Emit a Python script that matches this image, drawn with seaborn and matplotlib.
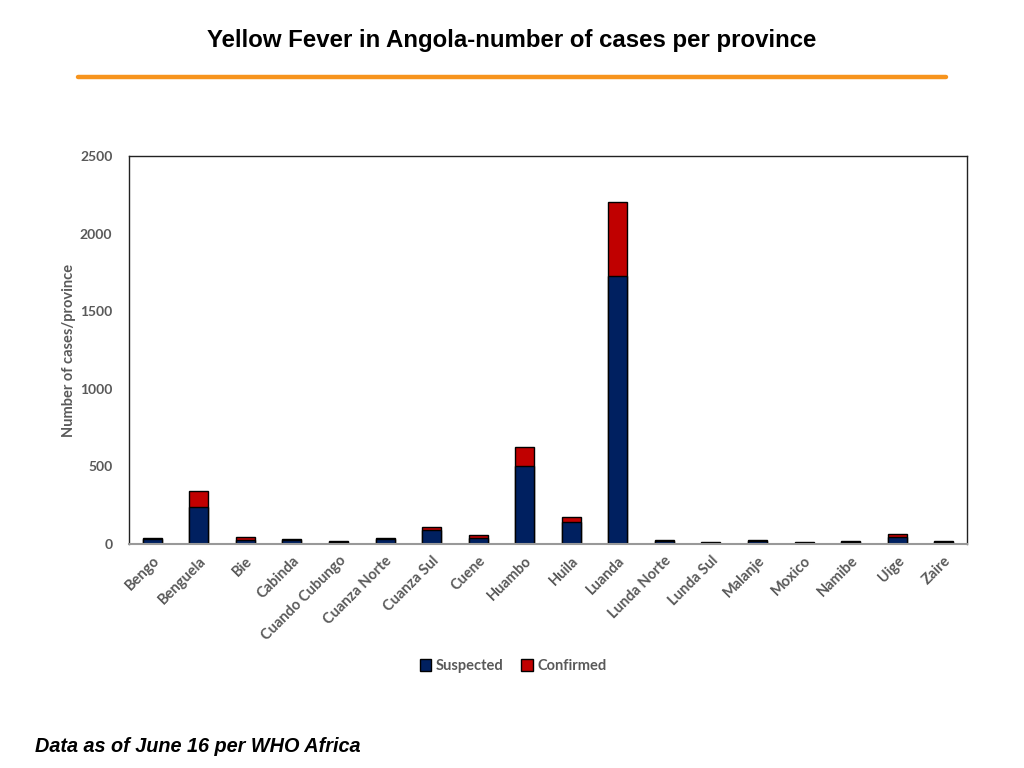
import matplotlib
matplotlib.use("Agg")
import matplotlib.pyplot as plt
import seaborn as sns
import pandas as pd
from matplotlib.patches import Patch
from matplotlib.lines import Line2D

provinces = ["Bengo", "Benguela", "Bie", "Cabinda", "Cuando Cubungo", "Cuanza Norte",
             "Cuanza Sul", "Cuene", "Huambo", "Huila", "Luanda", "Lunda Norte",
             "Lunda Sul", "Malanje", "Moxico", "Namibe", "Uige", "Zaire"]
suspected = [30, 238, 25, 28, 15, 33, 90, 40, 500, 142, 1725, 22, 8, 20, 8, 14, 45, 14]
confirmed = [8, 103, 20, 6, 3, 8, 20, 20, 125, 32, 478, 5, 2, 6, 2, 4, 22, 4]
y_ticks = [0, 500, 1000, 1500, 2000, 2500]

df = pd.DataFrame({"province": provinces, "suspected": suspected, "confirmed": confirmed})
df["total"] = df["suspected"] + df["confirmed"]

sns.set_theme(style="white")
plt.rcParams["font.family"] = ["Lato", "DejaVu Sans"]

navy = "#002060"
red = "#C00000"
gray = "#595959"

fig = plt.figure(figsize=(10.24, 7.68), dpi=100)
ax = fig.add_axes([129/1024, 1 - 544/768, (967-129)/1024, (544-156)/768])

sns.barplot(data=df, x="province", y="total", color=red, edgecolor="black",
            linewidth=1.0, width=0.41, saturation=1, ax=ax)
sns.barplot(data=df, x="province", y="suspected", color=navy, edgecolor="black",
            linewidth=1.0, width=0.41, saturation=1, ax=ax)

ax.set_xlim(-0.5, len(provinces) - 0.5)
ax.set_ylim(0, 2500)
ax.set_yticks(y_ticks)
ax.set_yticklabels([str(t) for t in y_ticks], fontsize=10, fontweight="bold", color=gray)
ax.set_xticks(range(len(provinces)))
ax.set_xticklabels(provinces, rotation=45, ha="right", rotation_mode="anchor",
                   fontsize=10.5, fontweight="bold", color=gray)
ax.tick_params(axis="y", length=0, pad=12)
ax.tick_params(axis="x", length=0, pad=7)
ax.set_xlabel("")
ax.set_ylabel("Number of cases/province", fontsize=10.5, fontweight="bold", color=gray, labelpad=3)

for side in ["left", "top", "right"]:
    ax.spines[side].set_color("#222222")
    ax.spines[side].set_linewidth(1.0)
ax.spines["bottom"].set_color("#999999")
ax.spines["bottom"].set_linewidth(1.5)

handles = [Patch(facecolor=navy, edgecolor="black", label="Suspected"),
           Patch(facecolor=red, edgecolor="black", label="Confirmed")]
leg = fig.legend(handles=handles, loc="center", bbox_to_anchor=(513/1024, 1 - 666/768),
                 ncol=2, frameon=False, handlelength=0.8, handleheight=0.8,
                 handletextpad=0.3, columnspacing=1.2,
                 prop={"family": ["Lato", "DejaVu Sans"], "weight": "bold", "size": 10.5})
for t in leg.get_texts():
    t.set_color(gray)

fig.text(512/1024, 1 - 41/768, "Yellow Fever in Angola-number of cases per province",
         ha="center", va="center", fontsize=17.3, fontweight="bold",
         family=["Liberation Sans", "DejaVu Sans"], color="black")
fig.add_artist(Line2D([78/1024, 946/1024], [1 - 77/768, 1 - 77/768],
                      color="#F7941D", linewidth=3.2, transform=fig.transFigure))
fig.text(35/1024, 1 - 746/768, "Data as of June 16 per WHO Africa",
         ha="left", va="center", fontsize=14.3, fontweight="bold", style="italic",
         family=["Liberation Sans", "DejaVu Sans"], color="black")

fig.savefig("out.png", dpi=100)
